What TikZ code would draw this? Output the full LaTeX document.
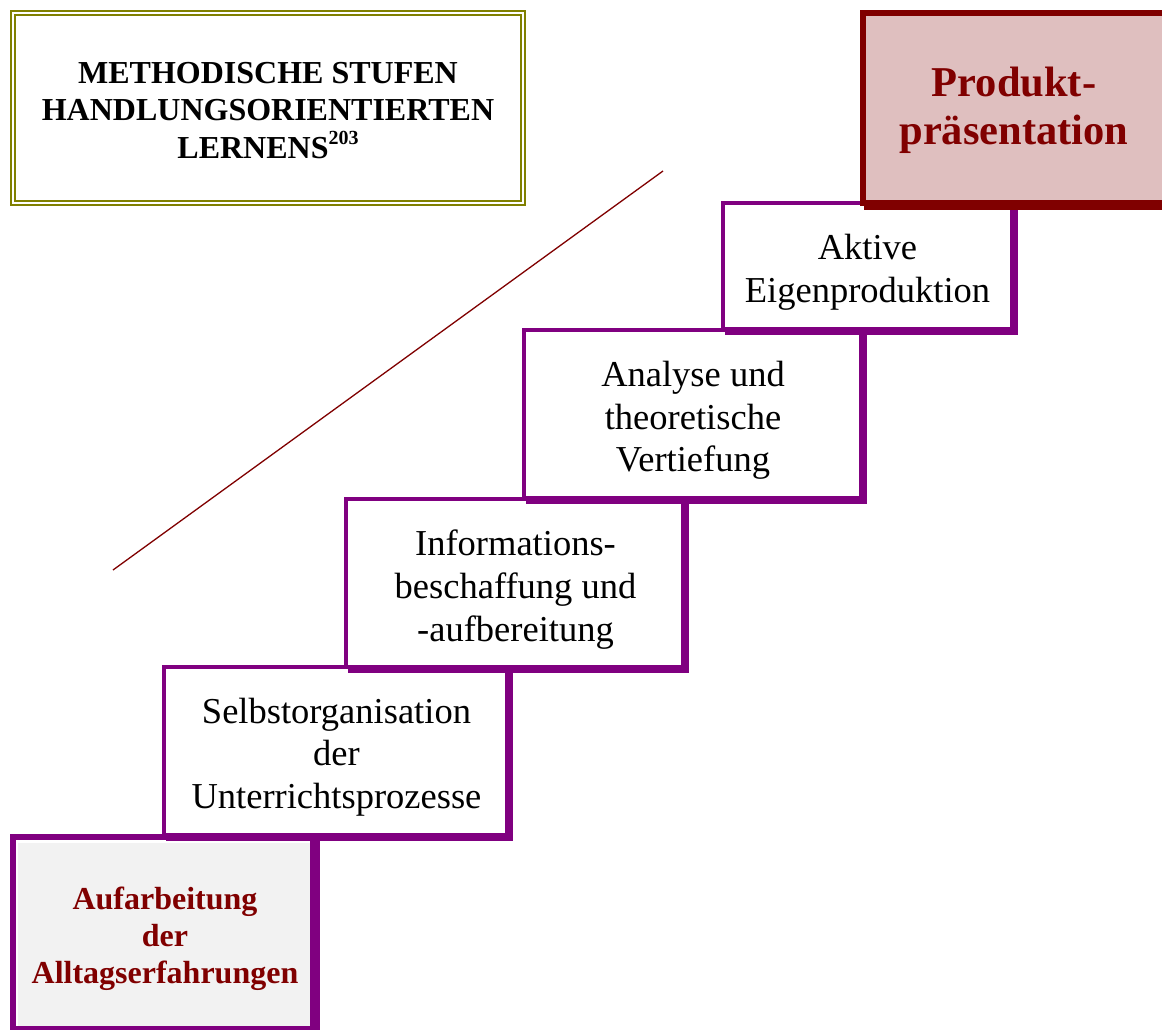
\documentclass[tikz,border=0pt]{standalone}
\usepackage{fontspec}
\setmainfont{Liberation Serif}
\definecolor{stufpurple}{RGB}{128,0,128}
\definecolor{stufred}{RGB}{128,0,0}
\definecolor{stufolive}{RGB}{128,128,0}
\definecolor{stufpink}{RGB}{223,191,191}
\definecolor{stufgray}{RGB}{242,242,242}
\tikzset{
  stepbox/.style={rectangle, draw=stufpurple, line width=3.8pt, fill=white, inner sep=0pt},
  stepshadow/.style={fill=stufpurple},
  steptext/.style={align=center, inner sep=0pt, font=\fontsize{36.5}{42.75}\selectfont},
  endbox/.style={rectangle, inner sep=0pt, line width=6pt},
  boldtext/.style={align=center, inner sep=0pt, text=stufred, font=\bfseries\fontsize{32}{37}\selectfont},
  titlebox/.style={rectangle, inner sep=0pt, draw=stufolive, line width=1.8pt, double=white, double distance=2pt, fill=white},
  slopeline/.style={draw=stufred, line width=1.3pt},
}
\begin{document}
\begin{tikzpicture}[x=1pt,y=-1pt]
\useasboundingbox (0,0) rectangle (1162,1030);
\fill[white] (0,0) rectangle (1162,1030);

% title
\node[titlebox, minimum width=510.1pt, minimum height=190.1pt] (title) at (267.85,107.85) {};
\node[align=center, inner sep=0pt, font=\bfseries\fontsize{32}{37.5}\selectfont] (titletext) at (268,110.2)
  {METHODISCHE STUFEN\\HANDLUNGSORIENTIERTEN\\LERNENS\raisebox{14pt}{\fontsize{20}{20}\selectfont 203}};

% slope line
\coordinate (linea) at (113,570);
\coordinate (lineb) at (663,171);
\draw[slopeline] (linea) -- (lineb);

% Aufarbeitung
\fill[stepshadow] (14,838) rectangle (320,1036);
\node[endbox, draw=stufpurple, fill=white, minimum width=300pt, minimum height=192pt] (auf) at (163,933) {};
\fill[stufgray] (18,842.5) rectangle (310,1026);
\node[boldtext] (auftext) at (165,939) {Aufarbeitung\\der\\Alltagserfahrungen};

% Selbstorganisation
\fill[stepshadow] (166,669) rectangle (513,841);
\node[stepbox, minimum width=343.2pt, minimum height=168.2pt] (selbst) at (335.5,751) {};
\node[steptext] (selbsttext) at (336.5,757) {Selbstorganisation\\der\\Unterrichtsprozesse};

% Informations
\fill[stepshadow] (348,501) rectangle (689,673);
\node[stepbox, minimum width=337.2pt, minimum height=168.2pt] (info) at (514.5,583) {};
\node[steptext] (infotext) at (515.5,589.5) {Informations-\\beschaffung und\\-aufbereitung};

% Analyse
\fill[stepshadow] (526,332) rectangle (867,504);
\node[stepbox, minimum width=337.2pt, minimum height=168.2pt] (analyse) at (692.5,414) {};
\node[steptext] (analysetext) at (693,420.5) {Analyse und\\theoretische\\Vertiefung};

% Aktive
\fill[stepshadow] (725,205) rectangle (1018,335);
\node[stepbox, minimum width=289.2pt, minimum height=126.2pt] (aktive) at (867.5,266) {};
\node[steptext] (aktivetext) at (867.5,272) {Aktive\\Eigenproduktion};

% Produkt
\fill[stufred] (864,14) rectangle (1172,210);
\node[endbox, draw=stufred, fill=stufpink, minimum width=302pt, minimum height=190pt] (produkt) at (1014,108) {};
\node[boldtext, font=\bfseries\fontsize{42.5}{48}\selectfont] (produkttext) at (1014,110.5) {Produkt-\\präsentation};
\end{tikzpicture}
\end{document}
